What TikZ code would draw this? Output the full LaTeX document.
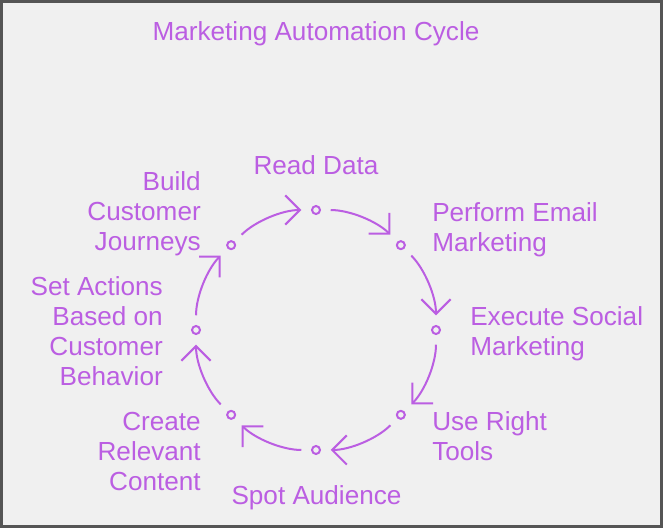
\documentclass[tikz,border=0pt]{standalone}
\usepackage{fontspec}
\setmainfont{Liberation Sans}
\usetikzlibrary{arrows.meta}
\definecolor{mapurple}{RGB}{187,94,226}
\definecolor{frameg}{RGB}{85,85,85}
\definecolor{bgg}{RGB}{240,240,240}
\begin{document}
\begin{tikzpicture}[x=0.75pt,y=0.75pt,
  lbl/.style={text=mapurple, font=\fontsize{19.6}{22.5}\selectfont, inner sep=0pt},
  dot/.style={circle, draw=mapurple, line width=1.5pt, minimum size=6pt, inner sep=0pt},
  flow/.style={draw=mapurple, line width=1.5pt, -{Straight Barb[length=11pt,width=22pt]},
     bend left=22.5, looseness=0.89, shorten <=7.3pt, shorten >=7.3pt}]
\fill[bgg] (0,0) rectangle (663,528);
\draw[frameg, line width=2pt] (1.3,1.3) rectangle (661.7,526.7);
\useasboundingbox (0,0) rectangle (663,528);
\foreach \n/\a in {p1/90, p2/45, p3/0, p4/-45, p5/-90, p6/-135, p7/180, p8/135}
  \node[dot] (\n) at ([shift={(\a:120)}]316,198) {};
\draw[flow] (p8) to (p1);
\draw[flow] (p1) to (p2);
\draw[flow] (p2) to (p3);
\draw[flow] (p3) to (p4);
\draw[flow] (p4) to (p5);
\draw[flow] (p5) to (p6);
\draw[flow] (p6) to (p7);
\draw[flow] (p7) to (p8);
\node[lbl, anchor=base] (title) at (316,487.5) {Marketing Automation Cycle};
\node[lbl, anchor=base] (l1) at (316,353.5) {Read Data};
\node[lbl, anchor=base west, align=left] (l2) at (432,277) {Perform Email\\Marketing};
\node[lbl, anchor=base west, align=left] (l3) at (470,172.5) {Execute Social\\Marketing};
\node[lbl, anchor=base west, align=left] (l4) at (432,67.5) {Use Right\\Tools};
\node[lbl, anchor=base] (l5) at (316.5,23.5) {Spot Audience};
\node[lbl, anchor=base east, align=right] (l6) at (201,37.5) {Create\\Relevant\\Content};
\node[lbl, anchor=base east, align=right] (l7) at (163,142.5) {Set Actions\\Based on\\Customer\\Behavior};
\node[lbl, anchor=base east, align=right] (l8) at (201,277.5) {Build\\Customer\\Journeys};
\end{tikzpicture}
\end{document}
